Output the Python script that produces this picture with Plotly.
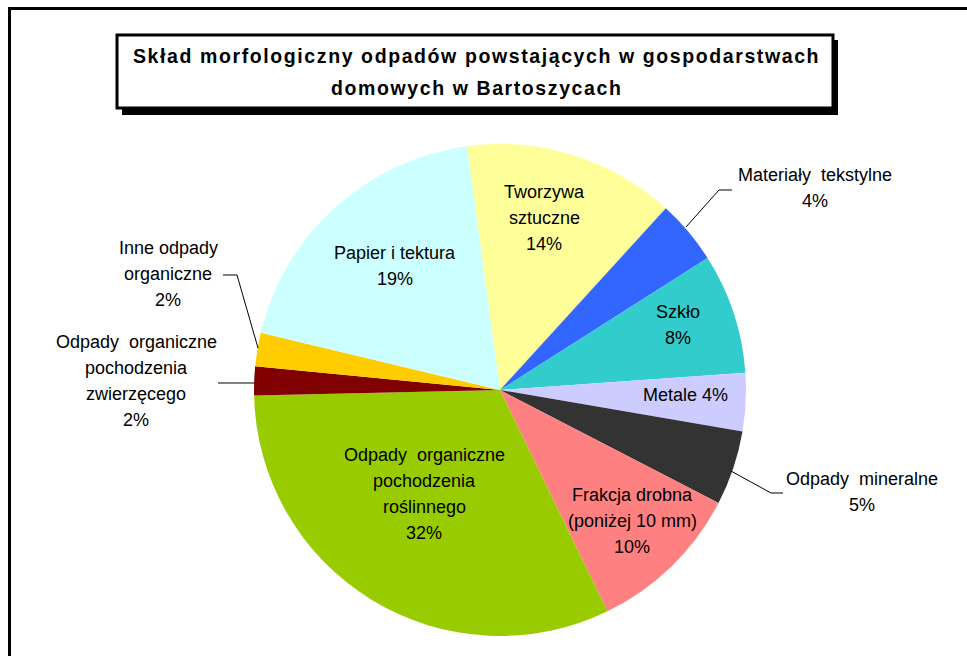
import plotly.graph_objects as go

# ---------------- data ----------------
categories = [
    "Tworzywa sztuczne",
    "Materiały tekstylne",
    "Szkło",
    "Metale",
    "Odpady mineralne",
    "Frakcja drobna (poniżej 10 mm)",
    "Odpady organiczne pochodzenia roślinnego",
    "Odpady organiczne pochodzenia zwierzęcego",
    "Inne odpady organiczne",
    "Papier i tektura",
]
shares = [13.9, 4.2, 7.9, 3.8, 4.9, 10.2, 31.8, 1.9, 2.2, 19.1]
colors = ["#FFFF99", "#3366FF", "#33CCCC", "#CCCCFF", "#333333",
          "#FF8080", "#99CC00", "#800000", "#FFCC00", "#CCFFFF"]
title_lines = ["Skład morfologiczny odpadów powstających w gospodarstwach",
               "domowych w Bartoszycach"]

# label text lines (percent appended from data)
label_lines = [
    ["Tworzywa", "sztuczne"],
    ["Materiały  tekstylne"],
    ["Szkło"],
    None,  # "Metale x%" on one line
    ["Odpady  mineralne"],
    ["Frakcja drobna", "(poniżej 10 mm)"],
    ["Odpady  organiczne", "pochodzenia", "roślinnego"],
    ["Odpady  organiczne", "pochodzenia", "zwierzęcego"],
    ["Inne odpady", "organiczne"],
    ["Papier i tektura"],
]

W, H = 967, 656
total = sum(shares)
pcts = ["%d%%" % round(v / total * 100) for v in shares]

def px(x):
    return x / W

def py(y):
    return 1 - y / H

fig = go.Figure()
cx, cy, r = 500, 390, 246
fig.add_trace(go.Pie(
    labels=categories,
    values=shares,
    sort=False,
    direction="clockwise",
    rotation=-7.7,
    marker=dict(colors=colors, line=dict(width=0)),
    textinfo="none",
    hoverinfo="label+percent",
    showlegend=False,
    domain=dict(x=[px(cx - r), px(cx + r)], y=[py(cy + r), py(cy - r)]),
))

# label placement (pixel centers of first line, line step)
label_pos = [
    (544, 192), (815, 175), (678, 312), (685, 395), (862, 479),
    (632, 495), (424, 455), (136, 342), (168, 248), (395, 253),
]
STEP = 26
annotations = []
for i, (x, y) in enumerate(label_pos):
    lines = label_lines[i]
    if lines is None:
        lines = [categories[i] + " " + pcts[i]]
    else:
        lines = lines + [pcts[i]]
    for k, t in enumerate(lines):
        annotations.append(dict(
            x=px(x), y=py(y + k * STEP), xref="paper", yref="paper",
            text=t, showarrow=False, xanchor="center", yanchor="middle",
            font=dict(family="Liberation Sans, Arial", size=18, color="black"),
        ))

for k, t in enumerate(title_lines):
    annotations.append(dict(
        x=px(476), y=py(56 + k * 32), xref="paper", yref="paper",
        text='<span style="letter-spacing:1.6px">%s</span>' % t,
        showarrow=False, xanchor="center", yanchor="middle",
        font=dict(family="Liberation Sans, Arial", size=19.5, color="black",
                  weight="bold"),
    ))

def path(points):
    return "M " + " L ".join("%f,%f" % (px(a), py(b)) for a, b in points)

line_style = dict(color="black", width=1)
shapes = [
    # outer chart border
    dict(type="rect", xref="paper", yref="paper", x0=px(9.5), y0=py(8.5),
         x1=px(975), y1=py(670), line=dict(color="black", width=3), layer="above"),
    # title box shadow + box
    dict(type="rect", xref="paper", yref="paper", x0=px(122), y0=py(40),
         x1=px(838), y1=py(115), line=dict(width=0), fillcolor="black", layer="above"),
    dict(type="rect", xref="paper", yref="paper", x0=px(117), y0=py(35),
         x1=px(833), y1=py(108), line=dict(color="black", width=3),
         fillcolor="white", layer="above"),
    # leader lines
    dict(type="path", xref="paper", yref="paper",
         path=path([(686, 227), (719, 190), (732, 190)]), line=line_style),
    dict(type="path", xref="paper", yref="paper",
         path=path([(731, 471), (771, 493), (783, 493)]), line=line_style),
    dict(type="path", xref="paper", yref="paper",
         path=path([(258, 348), (237, 275), (223, 275)]), line=line_style),
    dict(type="path", xref="paper", yref="paper",
         path=path([(255, 383), (218, 383)]), line=line_style),
]

fig.update_layout(
    width=W, height=H,
    margin=dict(l=0, r=0, t=0, b=0),
    paper_bgcolor="white", plot_bgcolor="white",
    annotations=annotations, shapes=shapes,
)

fig.write_html("out.html", config={"displayModeBar": False},
               post_script="document.body.style.margin='0';")
